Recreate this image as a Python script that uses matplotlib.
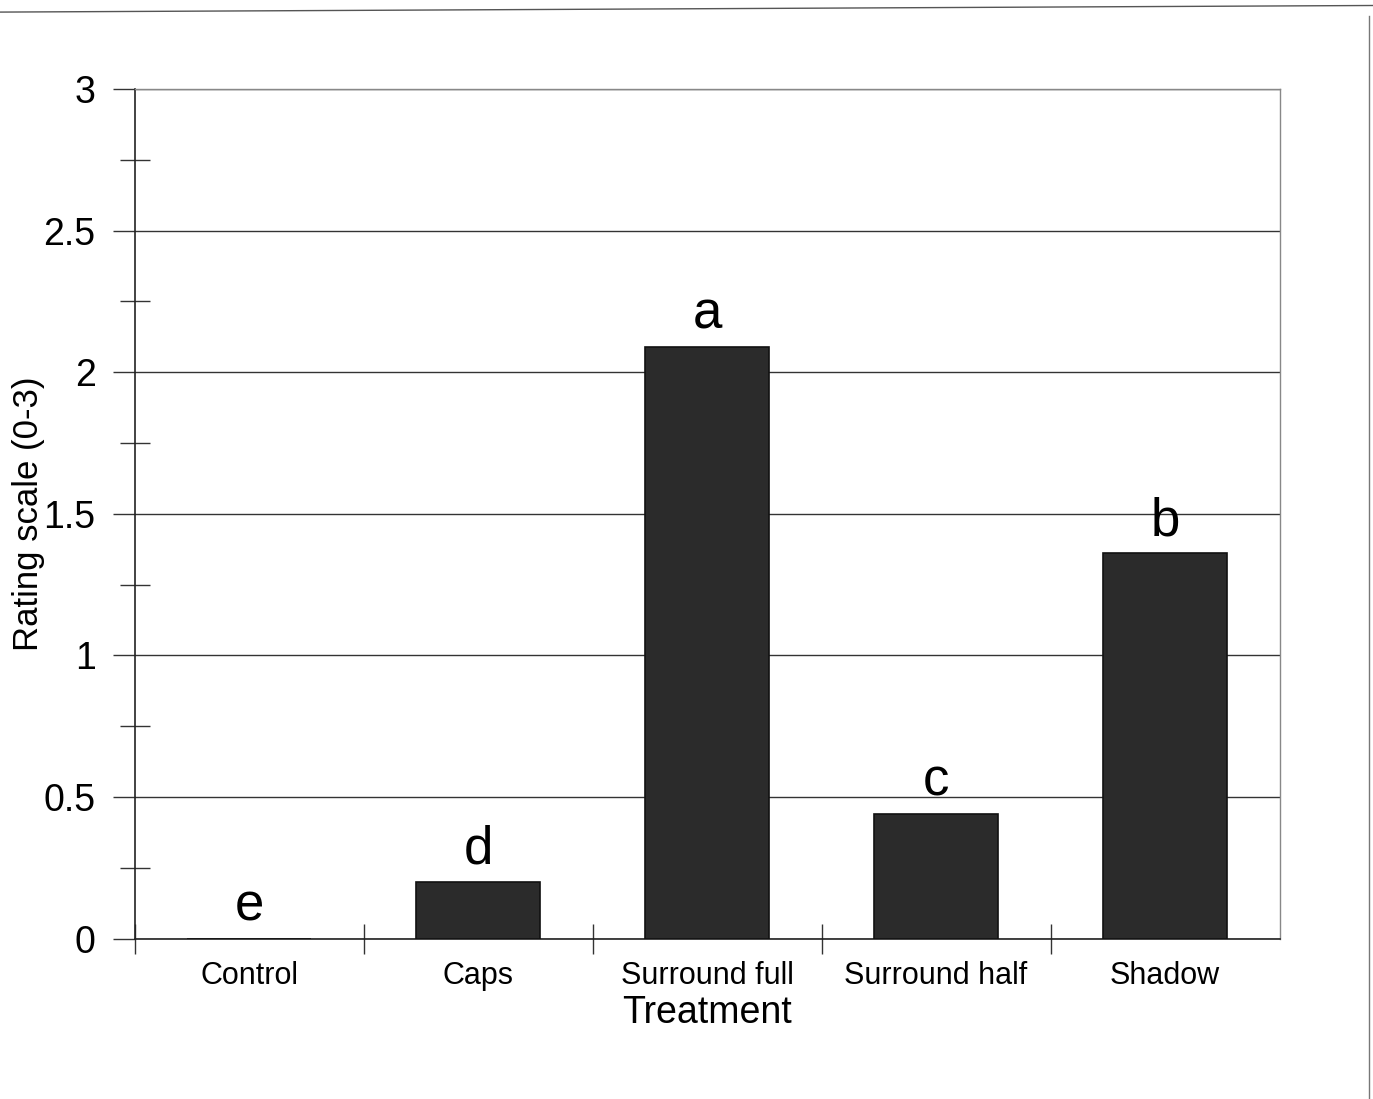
import matplotlib
matplotlib.use("Agg")
import matplotlib.pyplot as plt
from matplotlib.lines import Line2D
from matplotlib.ticker import MultipleLocator

treatments = ["Control", "Caps", "Surround full", "Surround half", "Shadow"]
ratings = [0.0, 0.2, 2.09, 0.44, 1.36]
letters = ["e", "d", "a", "c", "b"]

plt.rcParams["font.family"] = ["Liberation Sans", "DejaVu Sans"]

fig = plt.figure(figsize=(13.73, 10.99), dpi=100)
ax = fig.add_axes([0.098, 0.146, 0.834, 0.773])

x = range(len(treatments))
ax.bar(x, ratings, width=0.54, color="#2b2b2b", edgecolor="#111111",
       linewidth=1.2, zorder=3)

for xi, val, lab in zip(x, ratings, letters):
    ax.annotate(lab, (xi, val), xytext=(0, 13), textcoords="offset points",
                ha="center", va="baseline", fontsize=38, zorder=4)

ax.set_xlim(-0.5, len(treatments) - 0.5)
ax.set_ylim(0, 3)
ax.yaxis.set_minor_locator(MultipleLocator(0.25))
ax.set_yticks([0, 0.5, 1, 1.5, 2, 2.5, 3])
ax.set_yticklabels(["0", "0.5", "1", "1.5", "2", "2.5", "3"])
ax.grid(axis="y", color="#333333", linewidth=1.0, zorder=0)

# category labels centred, tick marks between categories
ax.set_xticks(list(x))
ax.set_xticklabels(treatments, fontsize=22)
ax.set_xticks([i - 0.5 for i in range(len(treatments))], minor=True)
ax.tick_params(axis="x", which="major", length=0, pad=16)
ax.tick_params(axis="x", which="minor", direction="inout", length=22,
               width=1.0, color="#333333")
ax.tick_params(axis="y", which="major", direction="out", length=16,
               width=1.0, labelsize=27, pad=12, color="#333333")
ax.tick_params(axis="y", which="minor", direction="inout", length=22,
               width=1.0, color="#333333")

for side in ["left", "bottom"]:
    ax.spines[side].set_color("#222222")
    ax.spines[side].set_linewidth(1.2)
for side in ["top", "right"]:
    ax.spines[side].set_color("#888888")
    ax.spines[side].set_linewidth(1.0)

ax.set_ylabel("Rating scale (0-3)", fontsize=25)
ax.yaxis.set_label_coords(-0.078, 0.5)
ax.set_xlabel("Treatment", fontsize=27, labelpad=3)

# scanned page border
fig.add_artist(Line2D([0.0, 1.0], [0.989, 0.995], color="#555555",
                      linewidth=1.0, transform=fig.transFigure))
fig.add_artist(Line2D([0.997, 0.997], [0.0, 0.985], color="#777777",
                      linewidth=1.0, transform=fig.transFigure))

fig.savefig("out.png", dpi=100, facecolor="white")
